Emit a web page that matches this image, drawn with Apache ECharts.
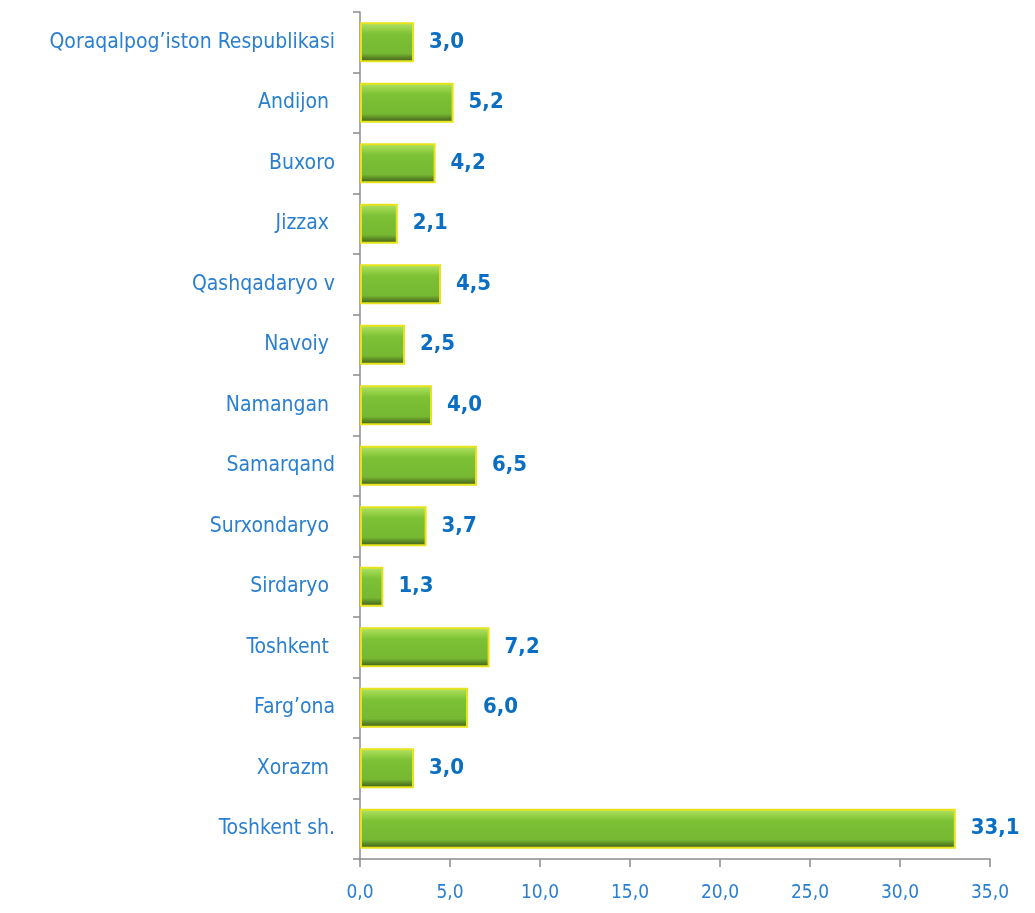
<!DOCTYPE html>
<html lang="en">
<head>
    <meta charset="UTF-8">
    <title></title>
    <style>
        html, body { margin: 0; padding: 0; width: 100%; height: 100%; background: #fff; }
    </style>
</head>
<body>
    <div id="main" style="width: 1035px;height:913px;"></div>
    <script src="https://cdn.jsdelivr.net/npm/echarts@6/dist/echarts.min.js"></script>
    <script type="text/javascript">
        var regions = ['Qoraqalpog\u2019iston Respublikasi', 'Andijon ', 'Buxoro', 'Jizzax ', 'Qashqadaryo v', 'Navoiy ',
            'Namangan ', 'Samarqand', 'Surxondaryo ', 'Sirdaryo ', 'Toshkent ', 'Farg\u2019ona', 'Xorazm ', 'Toshkent sh.'];
        var shares = [3.0, 5.2, 4.2, 2.1, 4.5, 2.5, 4.0, 6.5, 3.7, 1.3, 7.2, 6.0, 3.0, 33.1];

        var font = '"Liberation Sans Narrow", "DejaVu Sans Condensed", "Liberation Sans", sans-serif';
        var myChart = echarts.init(document.getElementById('main'));
        var option = {
            animation: false,
            grid: { left: 360, right: 45, top: 12, bottom: 54 },
            xAxis: {
                type: 'value',
                min: 0, max: 35, interval: 5,
                axisLine: { show: true, lineStyle: { color: '#8c8c8c', width: 1.5 } },
                axisTick: { show: true, length: 8, lineStyle: { color: '#8c8c8c', width: 1.5 } },
                splitLine: { show: false },
                axisLabel: {
                    margin: 25, color: '#2a7fd0', fontSize: 19, fontFamily: font,
                    formatter: function (v) { return v.toFixed(1).replace('.', ','); }
                }
            },
            yAxis: {
                type: 'category',
                inverse: true,
                data: regions,
                axisLine: { show: true, lineStyle: { color: '#8c8c8c', width: 1.5 } },
                axisTick: { show: true, length: 7, lineStyle: { color: '#8c8c8c', width: 1.5 } },
                axisLabel: { margin: 25, color: '#2a7fd0', fontSize: 21, fontFamily: font }
            },
            series: [{
                type: 'bar',
                data: shares,
                barWidth: 40,
                itemStyle: {
                    color: new echarts.graphic.LinearGradient(0, 0, 0, 1, [
                        { offset: 0, color: '#b4e36a' },
                        { offset: 0.18, color: '#93d045' },
                        { offset: 0.3, color: '#7cc136' },
                        { offset: 0.78, color: '#76b832' },
                        { offset: 0.9, color: '#567f22' },
                        { offset: 1, color: '#3c5a17' }
                    ]),
                    borderColor: '#e6e31c',
                    borderWidth: 2
                },
                label: {
                    show: true,
                    position: 'right',
                    distance: 15,
                    color: '#0a6fc2',
                    fontSize: 22,
                    fontWeight: 'bold',
                    fontFamily: font,
                    formatter: function (p) { return p.value.toFixed(1).replace('.', ','); }
                }
            }]
        };
        myChart.setOption(option);
        window.addEventListener("resize", function () {
            myChart.resize();
        });
    </script>
</body>
</html>
